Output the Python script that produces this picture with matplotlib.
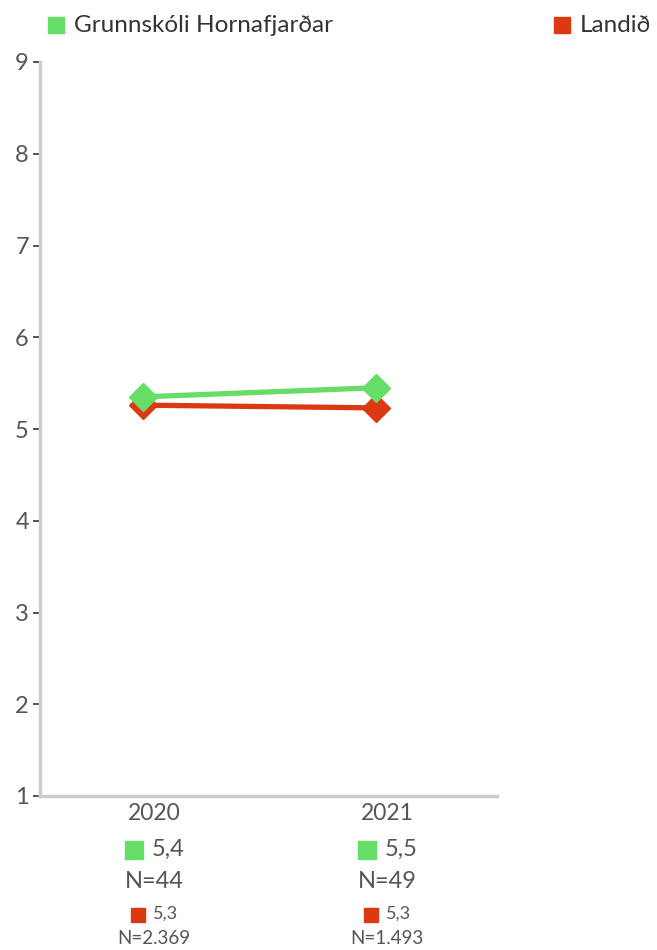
import matplotlib.pyplot as plt
from matplotlib.transforms import offset_copy

plt.rcParams['font.family'] = ['Lato', 'DejaVu Sans']

# data
years = ["2020", "2021"]
school = [5.35, 5.45]
country = [5.26, 5.23]
school_lbl = ["5,4", "5,5"]
school_n = ["N=44", "N=49"]
country_lbl = ["5,3", "5,3"]
country_n = ["N=2.369", "N=1.493"]
names = ["Grunnskóli Hornafjarðar", "Landið"]

GREEN = "#66DD66"
RED = "#DC3912"
TXT = "#555555"
AX = "#CCCCCC"

fig = plt.figure(figsize=(6.57, 9.5), dpi=100)
ax = fig.add_axes([40 / 657, 154 / 950, 457 / 657, 734 / 950])

x = list(range(len(years)))
ax.plot(x, country, color=RED, lw=3.8, marker="D", ms=14, zorder=3)
ax.plot(x, school, color=GREEN, lw=3.8, marker="D", ms=14, zorder=4)

ax.set_xlim(-0.442, 1.519)
ax.set_ylim(1, 9)
ax.set_yticks(range(1, 10))
ax.tick_params(axis="y", colors="#444444", labelcolor=TXT, labelsize=17,
               length=5, width=1.3, pad=3)
ax.set_xticks([])
for s in ["top", "right"]:
    ax.spines[s].set_visible(False)
for s in ["left", "bottom"]:
    ax.spines[s].set_color(AX)
    ax.spines[s].set_linewidth(2.5)

# texts under each category (offsets in pixels -> points)
P = 0.72
base = ax.get_xaxis_transform()
for i in x:
    def tr(dx, dy):
        return offset_copy(base, fig=fig, x=dx * P, y=-dy * P, units="points")
    ax.text(i, 0, years[i], transform=tr(11, 17), ha="center", va="center",
            fontsize=16.5, color=TXT)
    ax.plot([i], [0], "s", ms=13, color=GREEN, transform=tr(-9, 54), clip_on=False)
    ax.text(i, 0, school_lbl[i], transform=tr(9, 53), ha="left", va="center",
            fontsize=17, color=TXT)
    ax.text(i, 0, school_n[i], transform=tr(11, 86), ha="center", va="center",
            fontsize=17, color=TXT)
    ax.plot([i], [0], "s", ms=10, color=RED, transform=tr(-5, 119), clip_on=False)
    ax.text(i, 0, country_lbl[i], transform=tr(10, 118), ha="left", va="center",
            fontsize=13, color=TXT)
    ax.text(i, 0, country_n[i], transform=tr(11, 143), ha="center", va="center",
            fontsize=13.5, color=TXT)

# legend
ax.plot([56 / 657], [1 - 25 / 950], "s", ms=12, color=GREEN,
        transform=fig.transFigure, clip_on=False)
fig.text(74 / 657, 1 - 25 / 950, names[0], ha="left", va="center",
         fontsize=17.5, color="#333333")
ax.plot([562 / 657], [1 - 25 / 950], "s", ms=12, color=RED,
        transform=fig.transFigure, clip_on=False)
fig.text(580 / 657, 1 - 25 / 950, names[1], ha="left", va="center",
         fontsize=17.5, color="#333333")

fig.savefig("out.png", dpi=100)
